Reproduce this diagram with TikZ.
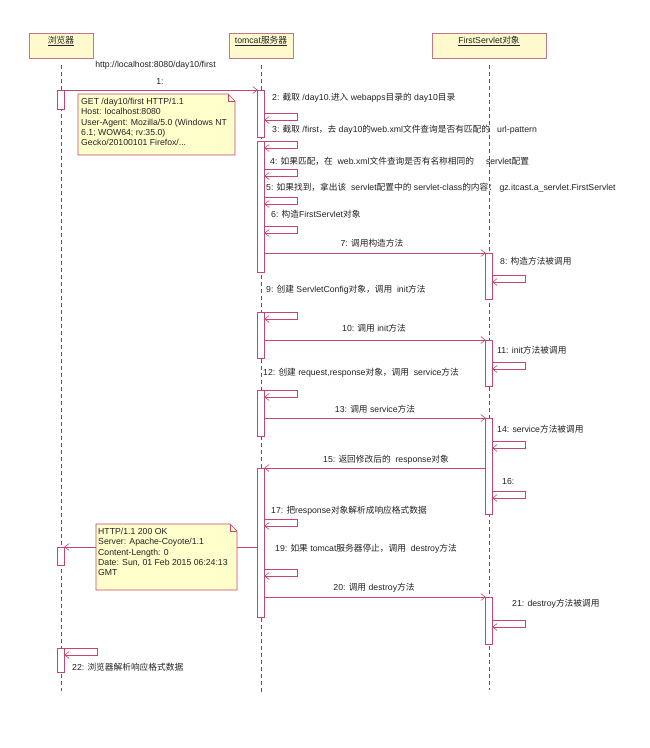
\documentclass[tikz,border=0pt]{standalone}
\usepackage{fontspec}
\setmainfont{Liberation Sans}
\newfontfamily\zhfont{Noto Sans CJK SC}
\newcommand\zh[1]{{\zhfont #1}}
\newcommand\lblf{\fontsize{8.7}{10.4}\selectfont}
\usetikzlibrary{arrows.meta}
\definecolor{lineC}{RGB}{196,70,110}
\definecolor{headB}{RGB}{190,120,135}
\definecolor{headF}{RGB}{255,250,205}
\definecolor{noteF}{RGB}{255,255,204}
\definecolor{lifeC}{RGB}{90,90,90}
\definecolor{txtC}{RGB}{35,35,35}
\newcommand\actbox[4]{\node[act, minimum height={(#4)-(#3)}, anchor=north] (#1) at (#2,#3) {};}
\newcommand\selfloop[2]{\draw[msg] (#1.east |- 0,#2) -- ++(33,0) -- ++(0,7) -- ++(-33,0);}
\begin{document}
\begin{tikzpicture}[x=1pt,y=-1pt,
  head/.style={draw=headB, fill=headF, line width=0.8pt, inner xsep=0pt, inner ysep=0pt,
    text height=10pt, text depth=15pt, font=\lblf, text=txtC},
  life/.style={draw=lifeC, line width=0.6pt, dash pattern=on 4pt off 3pt},
  act/.style={draw=lineC, fill=white, line width=0.6pt, minimum width=6.5pt, inner sep=0pt, outer sep=0pt},
  msg/.style={draw=lineC, line width=0.6pt, -{Straight Barb[length=4.5pt,width=7pt]}},
  note/.style={draw=lineC, fill=noteF, line width=0.6pt},
  notefold/.style={draw=lineC, line width=0.6pt},
  lbl/.style={font=\lblf, text=txtC, inner sep=0pt, anchor=base west},
  clbl/.style={font=\lblf, text=txtC, inner sep=0pt, anchor=base},
  notetxt/.style={font=\lblf, text=txtC, inner sep=0pt, anchor=north west, align=left}]
\useasboundingbox[fill=white] (0,0) rectangle (650,748);

% headers
\node[head, minimum width=64pt, anchor=north] (hB) at (61,33) {\underline{\zh{浏览器}}};
\node[head, minimum width=64pt, anchor=north] (hT) at (261,33) {\underline{tomcat\zh{服务器}}};
\node[head, minimum width=114pt, anchor=north] (hF) at (489,33) {\underline{FirstServlet\zh{对象}}};

% lifelines
\coordinate (eB) at (61,691);
\coordinate (eT) at (261,692);
\coordinate (eF) at (489,690);
\draw[life] (hB.south) ++(0,6) -- (eB);
\draw[life] (hT.south) ++(0,6) -- (eT);
\draw[life] (hF.south) ++(0,6) -- (eF);

% activation boxes
\actbox{B1}{61}{90}{109}
\actbox{B2}{61}{547}{565}
\actbox{B3}{61}{648}{672}
\actbox{T1}{261}{90}{137}
\actbox{T2}{261}{141}{272}
\actbox{T3}{261}{312}{358}
\actbox{T4}{261}{390}{436}
\actbox{T5}{261}{468}{617}
\actbox{F1}{489}{253}{299}
\actbox{F2}{489}{340}{386}
\actbox{F3}{489}{418}{514}
\actbox{F4}{489}{597}{644}

% self messages
\selfloop{T1}{113}
\selfloop{T2}{141}
\selfloop{T2}{169}
\selfloop{T2}{197}
\selfloop{T2}{226}
\selfloop{T3}{312}
\selfloop{T4}{390}
\selfloop{T5}{519}
\selfloop{T5}{569}
\selfloop{F1}{275}
\selfloop{F2}{362}
\selfloop{F3}{441}
\selfloop{F3}{491}
\selfloop{F4}{620}
\selfloop{B3}{648}

% messages
\draw[msg] (B1.north east) -- (T1.north west);
\draw[msg] (T2.east |- F1.north) -- (F1.north west);
\draw[msg] (T3.east |- F2.north) -- (F2.north west);
\draw[msg] (T4.east |- F3.north) -- (F3.north west);
\draw[msg] (F3.west |- T5.north) -- (T5.north east);
\draw[msg] (T5.west |- B2.north) -- (B2.north east);
\draw[msg] (T5.east |- F4.north) -- (F4.north west);

% notes
\filldraw[note] (78,94) -- (228,94) -- (235,101) -- (235,155) -- (78,155) -- cycle;
\draw[notefold] (228,94) -- (228,101) -- (235,101);
\node[notetxt] (n1) at (81,97) {\rule{0pt}{7pt}GET /day10/first HTTP/1.1\\
Host: localhost:8080\\
User-Agent: Mozilla/5.0 (Windows NT\\
6.1; WOW64; rv:35.0)\\
Gecko/20100101 Firefox/...};

\filldraw[note] (96,524) -- (230,524) -- (237,531) -- (237,590) -- (96,590) -- cycle;
\draw[notefold] (230,524) -- (230,531) -- (237,531);
\node[notetxt] (n2) at (98,527) {\rule{0pt}{7pt}HTTP/1.1 200 OK\\
Server: Apache-Coyote/1.1\\
Content-Length: 0\\
Date: Sun, 01 Feb 2015 06:24:13\\
GMT};

% labels
\node[clbl] (l0) at (155.5,67) {http://localhost:8080/day10/first};
\node[clbl] (l1) at (160,84.5) {1:};
\node[lbl] (l2) at (272,100) {2: \zh{截取} /day10.\zh{进入} webapps\zh{目录的} day10\zh{目录}};
\node[lbl] (l3) at (272,132) {3: \zh{截取} /first\zh{，去} day10\zh{的}web.xml\zh{文件查询是否有匹配的}};
\node[lbl] (l3b) at (497,132) {url-pattern};
\node[lbl] (l4) at (270,164) {4: \zh{如果匹配，在}\ \ web.xml\zh{文件查询是否有名称相同的}\hspace{12pt}servlet\zh{配置}};
\node[lbl] (l5) at (266,190) {5: \zh{如果找到，拿出该}\ \ servlet\zh{配置中的} servlet-class\zh{的内容：} gz.itcast.a\_servlet.FirstServlet};
\node[lbl] (l6) at (271,217) {6: \zh{构造}FirstServlet\zh{对象}};
\node[clbl] (l7) at (372,246) {7: \zh{调用构造方法}};
\node[lbl] (l8) at (500,264) {8: \zh{构造方法被调用}};
\node[lbl] (l9) at (266,292) {9: \zh{创建} ServletConfig\zh{对象，调用}\ \ init\zh{方法}};
\node[clbl] (l10) at (374,331) {10: \zh{调用} init\zh{方法}};
\node[lbl] (l11) at (497,353) {11: init\zh{方法被调用}};
\node[lbl] (l12) at (263,375) {12: \zh{创建} request,response\zh{对象，调用}\ \ service\zh{方法}};
\node[clbl] (l13) at (375,412) {13: \zh{调用} service\zh{方法}};
\node[lbl] (l14) at (497,432) {14: service\zh{方法被调用}};
\node[clbl] (l15) at (386,462) {15: \zh{返回修改后的}\ \ response\zh{对象}};
\node[lbl] (l16) at (502,484) {16:};
\node[lbl] (l17) at (271,513) {17: \zh{把}response\zh{对象解析成响应格式数据}};
\node[lbl] (l19) at (275,551) {19: \zh{如果} tomcat\zh{服务器停止，调用}\ \ destroy\zh{方法}};
\node[clbl] (l20) at (374,590) {20: \zh{调用} destroy\zh{方法}};
\node[lbl] (l21) at (512,606) {21: destroy\zh{方法被调用}};
\node[lbl] (l22) at (72,670) {22: \zh{浏览器解析响应格式数据}};
\end{tikzpicture}
\end{document}
